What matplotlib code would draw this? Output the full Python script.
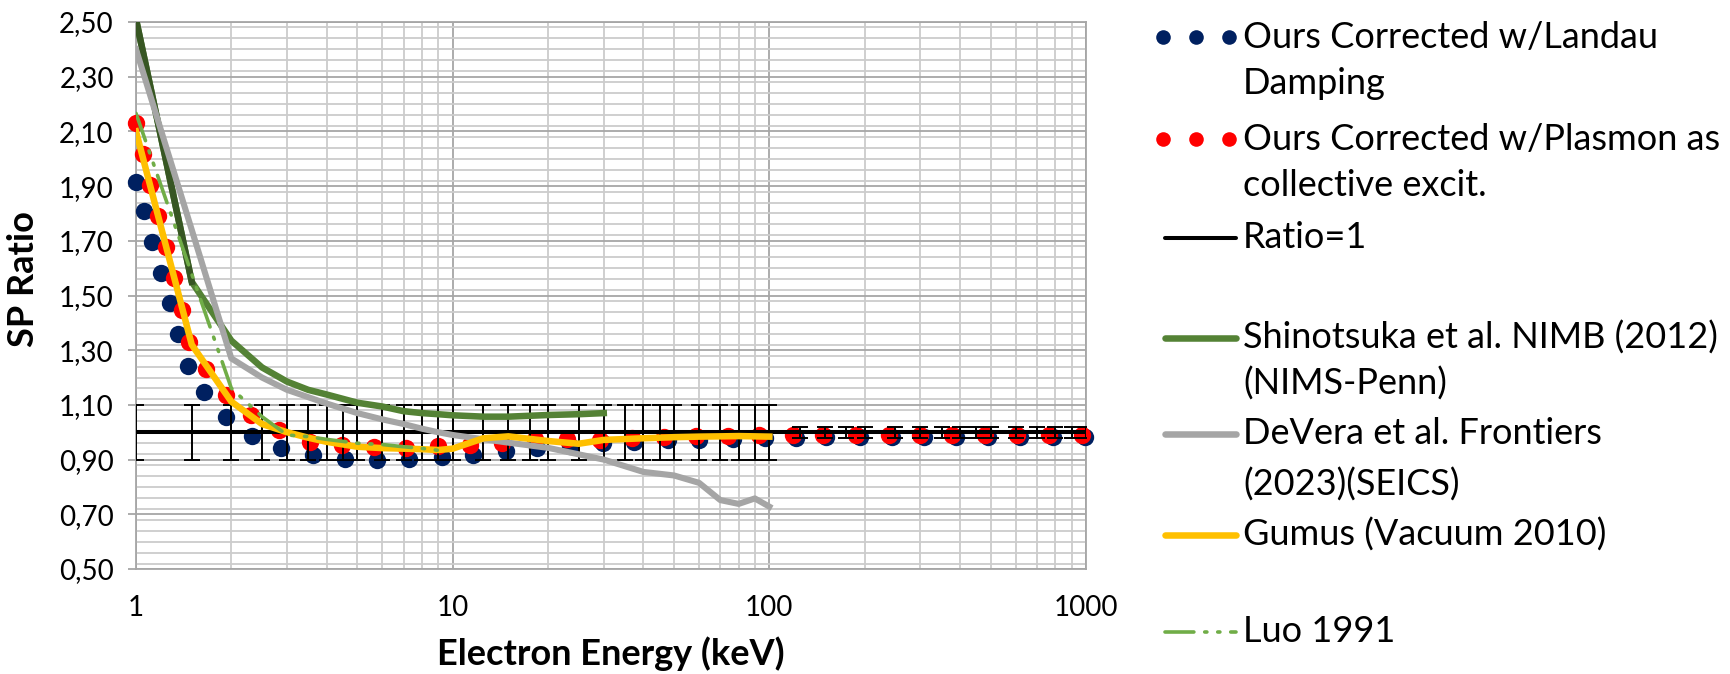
import matplotlib
matplotlib.use("Agg")
import matplotlib.pyplot as plt
from matplotlib.lines import Line2D
from matplotlib.ticker import FixedLocator, FuncFormatter, MultipleLocator, NullFormatter

plt.rcParams["font.family"] = ["Lato", "DejaVu Sans"]

# --- data (energy in keV, stopping power ratio) ---
landau_e = [1.0, 1.06, 1.126, 1.2, 1.28, 1.36, 1.456, 1.64, 1.92, 2.32, 2.87, 3.61,
            4.57, 5.78, 7.3, 9.24, 11.6, 14.7, 18.5, 23.4, 29.8, 37.5, 47.8, 60,
            76.7, 96.6, 121, 151, 193, 244, 307, 388, 492, 619, 785, 993]
landau_sp = [1.916, 1.81, 1.697, 1.583, 1.471, 1.358, 1.243, 1.146, 1.055, 0.987, 0.944, 0.917,
             0.902, 0.899, 0.902, 0.908, 0.917, 0.933, 0.941, 0.95, 0.96, 0.965, 0.97, 0.972,
             0.975, 0.978, 0.98, 0.982, 0.982, 0.982, 0.982, 0.982, 0.982, 0.982, 0.982, 0.982]

plasmon_e = [1.0, 1.05, 1.11, 1.176, 1.244, 1.318, 1.394, 1.473, 1.663, 1.92, 2.31, 2.83,
             3.54, 4.46, 5.65, 7.12, 8.97, 11.35, 14.3, 18.2, 22.9, 29.2, 36.8, 46.4,
             58.7, 74, 93, 118.6, 148, 188, 238, 300, 378, 480, 604, 765, 970]
plasmon_sp = [2.13, 2.017, 1.904, 1.791, 1.676, 1.563, 1.447, 1.331, 1.231, 1.136, 1.063, 1.008,
              0.965, 0.953, 0.947, 0.944, 0.95, 0.953, 0.962, 0.974, 0.974, 0.972, 0.978, 0.982,
              0.986, 0.988, 0.99, 0.99, 0.991, 0.991, 0.991, 0.991, 0.991, 0.991, 0.991, 0.991, 0.991]

ratio_e = [1, 1.5, 2, 2.5, 3, 3.5, 4, 4.5, 5, 6, 7, 8, 9, 10, 12.5, 15, 17.5, 20, 25, 30,
           35, 40, 45, 50, 60, 70, 80, 90, 100, 125, 150, 175, 200, 250, 300, 350, 400,
           450, 500, 600, 700, 800, 900, 1000]
ratio_sp = [1.0] * len(ratio_e)
ratio_err = [0.10, 0.10, 0.10, 0.10, 0.10, 0.10, 0.10, 0.10, 0.10, 0.10, 0.10, 0.10, 0.10,
             0.10, 0.10, 0.10, 0.10, 0.10, 0.10, 0.10, 0.10, 0.10, 0.10, 0.10, 0.10, 0.10,
             0.10, 0.10, 0.10, 0.02, 0.02, 0.02, 0.02, 0.02, 0.02, 0.02, 0.02, 0.02, 0.02,
             0.02, 0.02, 0.02, 0.02, 0.02]

shin_e = [1, 1.5, 2, 2.5, 3, 3.5, 4, 5, 6, 7, 8, 9, 10, 12.5, 15, 20, 25, 30]
shin_sp = [2.51, 1.55, 1.335, 1.237, 1.185, 1.155, 1.138, 1.108, 1.094, 1.077, 1.07, 1.066,
           1.062, 1.057, 1.057, 1.063, 1.066, 1.07]

devera_e = [1, 1.5, 2, 2.5, 3, 4, 5, 6, 7, 8, 9, 10, 15, 20, 30, 40, 50, 60, 70, 80, 90, 100]
devera_sp = [2.40, 1.74, 1.27, 1.20, 1.155, 1.105, 1.07, 1.047, 1.03, 1.013, 1.0, 0.99,
             0.962, 0.943, 0.90, 0.855, 0.842, 0.815, 0.752, 0.738, 0.758, 0.728]

gumus_e = [1, 1.5, 2, 2.5, 3, 3.5, 4, 5, 6, 7, 8, 9, 10, 12.5, 15, 20, 25, 30, 40, 50,
           60, 70, 80, 100]
gumus_sp = [2.10, 1.32, 1.112, 1.03, 1.0, 0.98, 0.965, 0.947, 0.942, 0.94, 0.938, 0.935,
            0.94, 0.978, 0.985, 0.968, 0.958, 0.972, 0.978, 0.982, 0.984, 0.985, 0.986, 0.984]

luo_e = [1, 2, 2.5, 3, 3.5, 4, 5, 6, 7, 8, 9.3]
luo_sp = [2.166, 1.161, 1.057, 0.99, 0.984, 0.974, 0.96, 0.955, 0.947, 0.941, 0.932]

y_major = [0.5, 0.7, 0.9, 1.1, 1.3, 1.5, 1.7, 1.9, 2.1, 2.3, 2.5]
x_ticks = [1, 10, 100, 1000]
x_tick_labels = ["1", "10", "100", "1000"]

legend_lines = [
    ("Ours Corrected w/Landau", "Damping"),
    ("Ours Corrected w/Plasmon as", "collective excit."),
    ("Ratio=1",),
    ("Shinotsuka et al. NIMB (2012)", "(NIMS-Penn)"),
    ("DeVera et al. Frontiers", "(2023)(SEICS)"),
    ("Gumus (Vacuum 2010)",),
    ("Luo 1991",),
]

BLUE = "#002060"
RED = "#FF0000"
GREEN = "#548235"
DARK_GREEN = "#375623"
GRAY = "#A5A5A5"
YELLOW = "#FFC000"
LIGHT_GREEN = "#70AD47"
LUO_DASH = (0, (8, 3, 0.6, 3, 0.6, 3))

W, H = 1730, 674
fig = plt.figure(figsize=(W / 100, H / 100), dpi=100)
ax = fig.add_axes([136 / W, 1 - 569 / H, (1086 - 136) / W, (569 - 22) / H])

ax.plot(landau_e, landau_sp, "o", color=BLUE, ms=12.5, mec="none", zorder=3, clip_on=False)
ax.plot(plasmon_e, plasmon_sp, "o", color=RED, ms=12.5, mec="none", zorder=4, clip_on=False)
ax.errorbar(ratio_e, ratio_sp, yerr=ratio_err, fmt="none", ecolor="black",
            elinewidth=1.4, capsize=6, capthick=1.4, zorder=5)
ax.plot(ratio_e, ratio_sp, color="black", lw=2.9, zorder=5)
ax.plot(shin_e, shin_sp, color=GREEN, lw=4.7, zorder=6, solid_joinstyle="round")
ax.plot(shin_e[:2], shin_sp[:2], color=DARK_GREEN, lw=4.7, zorder=6)
ax.plot(devera_e, devera_sp, color=GRAY, lw=4.4, zorder=7, solid_joinstyle="round")
ax.plot(gumus_e, gumus_sp, color=YELLOW, lw=4.7, zorder=8, solid_joinstyle="round")
ax.plot(luo_e, luo_sp, color=LIGHT_GREEN, lw=2.6, ls=LUO_DASH, dash_capstyle="round", zorder=9)

ax.set_xscale("log")
ax.set_xlim(1, 1000)
ax.set_ylim(0.5, 2.5)
ax.xaxis.set_major_locator(FixedLocator(x_ticks))
ax.xaxis.set_major_formatter(FuncFormatter(lambda v, p: x_tick_labels[x_ticks.index(round(v))]
                                           if round(v) in x_ticks else ""))
ax.xaxis.set_minor_locator(FixedLocator([m * d for d in (1, 10, 100) for m in range(2, 10)]))
ax.xaxis.set_minor_formatter(NullFormatter())
ax.yaxis.set_major_locator(FixedLocator(y_major))
ax.yaxis.set_minor_locator(MultipleLocator(0.04))
ax.yaxis.set_major_formatter(FuncFormatter(lambda v, p: f"{v:.2f}".replace(".", ",")))

ax.grid(True, which="major", color="#A6A6A6", lw=1.3, zorder=0)
ax.grid(True, which="minor", color="#CCCCCC", lw=1.3, zorder=0)
ax.set_axisbelow(True)
for s in ax.spines.values():
    s.set_color("#A6A6A6")
    s.set_linewidth(1.3)

ax.tick_params(axis="x", which="both", length=0, pad=19, labelsize=20)
ax.tick_params(axis="y", which="major", length=6, color="#A6A6A6", width=1.3, pad=10, labelsize=20)
ax.tick_params(axis="y", which="minor", length=0)

ax.set_xlabel("Electron Energy (keV)", fontsize=26, fontweight="bold", va="center")
ax.xaxis.set_label_coords(0.5, -0.155)
ax.set_ylabel("SP Ratio", fontsize=26, fontweight="bold", va="center")
ax.yaxis.set_label_coords(-0.118, 0.53)

# legend drawn by hand to keep the two-line entries aligned like the original
def fx(px):
    return px / W

def fy(py):
    return 1 - py / H

line_y = [[37, 84], [139, 185], [238], [338, 384], [434, 485], [535], [632]]
handles = [
    dict(kind="dots", color=BLUE),
    dict(kind="dots", color=RED),
    dict(kind="line", color="black", lw=2.9),
    dict(kind="line", color=GREEN, lw=4.7),
    dict(kind="line", color=GRAY, lw=4.7),
    dict(kind="line", color=YELLOW, lw=4.7),
    dict(kind="line", color=LIGHT_GREEN, lw=2.6, ls=LUO_DASH),
]
for texts, ys, h in zip(legend_lines, line_y, handles):
    y0 = fy(ys[0])
    if h["kind"] == "dots":
        fig.add_artist(Line2D([fx(1163), fx(1196), fx(1229)], [y0] * 3, ls="none", marker="o",
                              ms=10.5, color=h["color"], mec="none", transform=fig.transFigure))
    else:
        fig.add_artist(Line2D([fx(1165), fx(1236)], [y0, y0], color=h["color"], lw=h["lw"],
                              ls=h.get("ls", "-"), solid_capstyle="round", dash_capstyle="round",
                              transform=fig.transFigure))
    for t, yy in zip(texts, ys):
        fig.text(fx(1243), fy(yy), t, fontsize=26, va="center", ha="left")

fig.savefig("out.png", dpi=100)
